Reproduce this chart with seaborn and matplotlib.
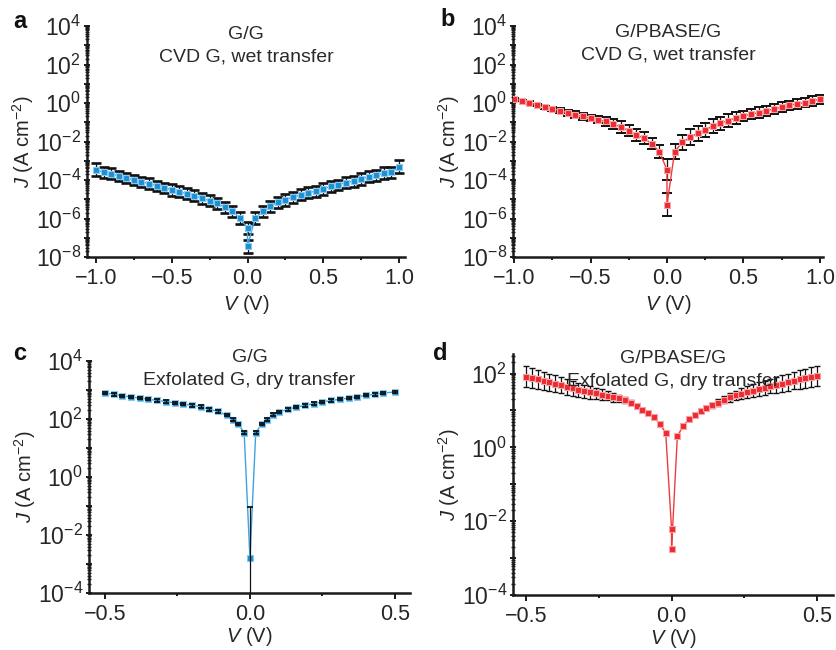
import numpy as np
import pandas as pd
import matplotlib
matplotlib.use('Agg')
import matplotlib.pyplot as plt
import matplotlib.ticker as mticker
import seaborn as sns

# ---- data (J values given as log10 of A cm^-2, errors in decades) ----

# CVD graphene, wet transfer (panels a and b share the voltage grid)
v_cvd = [-1.0, -0.95, -0.9, -0.85, -0.8, -0.75, -0.7, -0.65, -0.6, -0.55,
         -0.5, -0.45, -0.4, -0.35, -0.3, -0.25, -0.2, -0.15, -0.1, -0.05,
         0.0, 0.0,
         0.05, 0.1, 0.15, 0.2, 0.25, 0.3, 0.35, 0.4, 0.45, 0.5,
         0.55, 0.6, 0.65, 0.7, 0.75, 0.8, 0.85, 0.9, 0.95, 1.0]

logj_a = [-3.47, -3.61, -3.68, -3.78, -3.89, -3.99, -4.09, -4.19, -4.30, -4.40,
          -4.52, -4.61, -4.71, -4.82, -4.96, -5.08, -5.22, -5.41, -5.63, -5.98,
          -6.50, -7.45,
          -5.98, -5.63, -5.37, -5.15, -5.03, -4.89, -4.77, -4.65, -4.59, -4.46,
          -4.33, -4.25, -4.13, -4.06, -3.95, -3.82, -3.76, -3.64, -3.61, -3.30]
err_a = [0.33, 0.29, 0.29, 0.25, 0.26, 0.26, 0.27, 0.28, 0.27, 0.26,
         0.29, 0.28, 0.27, 0.28, 0.29, 0.28, 0.27, 0.28, 0.29, 0.30,
         0.30, 0.33,
         0.32, 0.30, 0.28, 0.29, 0.30, 0.28, 0.29, 0.27, 0.28, 0.30,
         0.28, 0.27, 0.29, 0.28, 0.30, 0.29, 0.28, 0.30, 0.29, 0.34]

logj_b = [0.21, 0.13, 0.02, -0.10, -0.22, -0.32, -0.39, -0.53, -0.62, -0.70,
          -0.79, -0.88, -0.96, -1.08, -1.26, -1.43, -1.65, -1.83, -2.12, -2.52,
          -3.47, -5.29,
          -2.52, -2.05, -1.78, -1.57, -1.40, -1.19, -1.05, -0.91, -0.79, -0.67,
          -0.58, -0.50, -0.41, -0.31, -0.22, -0.12, -0.05, 0.02, 0.11, 0.20]
err_b = [0.05, 0.05, 0.06, 0.07, 0.08, 0.10, 0.14, 0.17, 0.18, 0.16,
         0.17, 0.18, 0.22, 0.26, 0.30, 0.30, 0.30, 0.30, 0.28, 0.32,
         0.55, 0.60,
         0.40, 0.40, 0.42, 0.40, 0.38, 0.35, 0.33, 0.32, 0.30, 0.28,
         0.27, 0.27, 0.26, 0.26, 0.25, 0.25, 0.24, 0.24, 0.24, 0.24]

# exfoliated graphene, dry transfer, G/G
v_c = [-0.50, -0.47, -0.44, -0.41, -0.38, -0.35, -0.32, -0.29, -0.26, -0.23,
       -0.20, -0.17, -0.14, -0.11, -0.08, -0.06, -0.04, -0.02,
       0.0,
       0.02, 0.04, 0.06, 0.08, 0.10, 0.13, 0.16, 0.19, 0.22, 0.25,
       0.28, 0.31, 0.34, 0.37, 0.40, 0.43, 0.46, 0.50]
logj_c = [2.90, 2.85, 2.80, 2.76, 2.72, 2.68, 2.64, 2.60, 2.56, 2.52,
          2.47, 2.43, 2.33, 2.26, 2.13, 1.98, 1.82, 1.53,
          -2.79,
          1.53, 1.82, 1.98, 2.15, 2.24, 2.33, 2.41, 2.47, 2.53, 2.59,
          2.64, 2.68, 2.72, 2.76, 2.82, 2.85, 2.90, 2.93]
err_c = [0.04, 0.04, 0.04, 0.04, 0.04, 0.04, 0.04, 0.04, 0.04, 0.04,
         0.04, 0.04, 0.04, 0.04, 0.04, 0.04, 0.04, 0.04,
         1.76,
         0.04, 0.04, 0.04, 0.04, 0.04, 0.04, 0.04, 0.04, 0.04, 0.04,
         0.04, 0.04, 0.04, 0.04, 0.04, 0.04, 0.04, 0.04]

# exfoliated graphene, dry transfer, G/PBASE/G
v_d = [-0.50, -0.48, -0.46, -0.44, -0.42, -0.40, -0.38, -0.36, -0.34, -0.32,
       -0.30, -0.28, -0.26, -0.24, -0.22, -0.20, -0.18, -0.16, -0.14, -0.12,
       -0.10, -0.08, -0.06, -0.04, -0.02,
       0.0, 0.0,
       0.02, 0.04, 0.06, 0.08, 0.10, 0.12, 0.14, 0.16, 0.18, 0.20,
       0.22, 0.24, 0.26, 0.28, 0.30, 0.32, 0.34, 0.36, 0.38, 0.40,
       0.42, 0.44, 0.46, 0.48, 0.50]
logj_d = [1.92, 1.88, 1.84, 1.80, 1.76, 1.72, 1.68, 1.64, 1.60, 1.56,
          1.52, 1.49, 1.46, 1.43, 1.40, 1.36, 1.33, 1.28, 1.21, 1.12,
          1.02, 0.93, 0.83, 0.62, 0.40,
          -2.20, -2.76,
          0.30, 0.58, 0.76, 0.89, 0.99, 1.07, 1.14, 1.21, 1.29, 1.36,
          1.41, 1.45, 1.50, 1.54, 1.58, 1.62, 1.66, 1.69, 1.73, 1.77,
          1.81, 1.84, 1.87, 1.90, 1.93]
err_d = [0.28, 0.27, 0.26, 0.25, 0.24, 0.23, 0.22, 0.21, 0.20, 0.19,
         0.18, 0.17, 0.16, 0.15, 0.13, 0.12, 0.10, 0.09, 0.07, 0.06,
         0.05, 0.04, 0.04, 0.04, 0.04,
         0.04, 0.04,
         0.04, 0.04, 0.04, 0.04, 0.05, 0.06, 0.07, 0.09, 0.10, 0.12,
         0.13, 0.15, 0.16, 0.17, 0.18, 0.19, 0.20, 0.21, 0.22, 0.23,
         0.24, 0.25, 0.26, 0.27, 0.28]

titles = [('G/G', 'CVD G, wet transfer'),
          ('G/PBASE/G', 'CVD G, wet transfer'),
          ('G/G', 'Exfolated G, dry transfer'),
          ('G/PBASE/G', 'Exfolated G, dry transfer')]

# ---- style ----
sns.set_style('ticks')
plt.rcParams['font.family'] = ['Liberation Sans', 'DejaVu Sans']
plt.rcParams['mathtext.fontset'] = 'custom'
plt.rcParams['mathtext.rm'] = 'Liberation Sans'
plt.rcParams['mathtext.it'] = 'Liberation Sans:italic'
plt.rcParams['axes.unicode_minus'] = True

blue = '#1c8fd3'
blue_edge = '#86c8ef'
blue_line = '#3ea2e0'
red = '#ee2a30'
red_edge = '#f6a3a5'
red_line = '#ee3b3e'


def log_fmt(val, pos):
    e = int(round(np.log10(val)))
    if e % 2 == 0:
        return r'$10^{%d}$' % e
    return ''


def v_fmt(val, pos):
    return ('%.1f' % val).replace('-', '\u2212')


def draw(ax, v, logj, err, face, edge, line, ms, capsize, capthick, caps_on_top):
    logj = np.array(logj)
    err = np.array(err)
    j = 10 ** logj
    lo = j - 10 ** (logj - err)
    hi = 10 ** (logj + err) - j
    df = pd.DataFrame({'V': v, 'J': j})
    ax.set_yscale('log')
    ax.errorbar(v, j, yerr=[lo, hi], fmt='none', ecolor='#111111', elinewidth=0.9,
                capsize=capsize, capthick=capthick, zorder=4 if caps_on_top else 2)
    sns.lineplot(data=df, x='V', y='J', sort=False, estimator=None, ax=ax,
                 color=line, lw=1.0, marker='s', markersize=ms,
                 markerfacecolor=face, markeredgecolor=edge, markeredgewidth=0.8,
                 zorder=3)


def style_axis(ax, xlim, ylim, xmajor, xminor, ttl, ty, xpad):
    ax.set_xlim(*xlim)
    ax.set_ylim(*ylim)
    sns.despine(ax=ax)
    for s in ['left', 'bottom']:
        ax.spines[s].set_linewidth(1.8)
        ax.spines[s].set_color('#1a1a1a')
    ax.xaxis.set_major_locator(mticker.MultipleLocator(xmajor))
    ax.xaxis.set_minor_locator(mticker.MultipleLocator(xminor))
    ax.xaxis.set_major_formatter(mticker.FuncFormatter(v_fmt))
    ax.yaxis.set_major_locator(mticker.LogLocator(base=10, numticks=30))
    ax.yaxis.set_minor_locator(mticker.LogLocator(base=10, subs=np.arange(2, 10), numticks=30))
    ax.yaxis.set_major_formatter(mticker.FuncFormatter(log_fmt))
    ax.yaxis.set_minor_formatter(mticker.NullFormatter())
    ax.tick_params(axis='x', which='major', direction='out', length=4.5, width=1.4,
                   labelsize=15.5, pad=3.5, color='#1a1a1a')
    ax.tick_params(axis='x', which='minor', direction='out', length=2.2, width=1.4,
                   color='#1a1a1a')
    ax.tick_params(axis='y', which='major', direction='inout', length=4.5, width=1.4,
                   labelsize=16.5, pad=2, color='#1a1a1a')
    ax.tick_params(axis='y', which='minor', direction='inout', length=2.5, width=1.0,
                   color='#1a1a1a')
    ax.set_xlabel(r'$\mathit{V}$ (V)', fontsize=14.5, labelpad=xpad)
    ax.set_ylabel(r'$\mathit{J}$ (A cm$^{-2}$)', fontsize=14.5, labelpad=0)
    ax.text(0.5, ty[0], ttl[0], transform=ax.transAxes, ha='center', va='center',
            fontsize=14, color='#2a2a2a')
    ax.text(0.5, ty[1], ttl[1], transform=ax.transAxes, ha='center', va='center',
            fontsize=14, color='#2a2a2a')


fig = plt.figure(figsize=(8.36, 6.5), dpi=100)
ax_a = fig.add_axes([0.104, 0.6046, 0.3805, 0.3554])
ax_b = fig.add_axes([0.6136, 0.6046, 0.3708, 0.3554])
ax_c = fig.add_axes([0.1065, 0.0877, 0.3839, 0.3569])
ax_d = fig.add_axes([0.6136, 0.0846, 0.3828, 0.3708])

draw(ax_a, v_cvd, logj_a, err_a, blue, blue_edge, blue_line, 4.8, 3.6, 1.9, False)
style_axis(ax_a, (-1.06, 1.04), (1e-8, 1e4), 0.5, 0.25, titles[0], (0.965, 0.866), 3)

draw(ax_b, v_cvd, logj_b, err_b, red, red_edge, red_line, 4.4, 3.6, 1.4, False)
style_axis(ax_b, (-1.007, 1.02), (1e-8, 1e4), 0.5, 0.25, titles[1], (0.974, 0.874), 3)

draw(ax_c, v_c, logj_c, err_c, blue, blue_edge, blue_line, 3.8, 2.4, 1.3, True)
style_axis(ax_c, (-0.555, 0.552), (1e-4, 1e4), 0.5, 0.25, titles[2], (1.013, 0.914), 0)

draw(ax_d, v_d, logj_d, err_d, red, red_edge, red_line, 4.4, 2.4, 1.0, False)
style_axis(ax_d, (-0.545, 0.555), (1e-4, 10 ** 2.53), 0.5, 0.25, titles[3], (0.983, 0.884), 0)

for lbl, x, y in [('a', 20, 22), ('b', 448, 20), ('c', 20, 354), ('d', 440, 353)]:
    fig.text(x / 836, 1 - y / 650, lbl, fontsize=17, fontweight='bold',
             ha='center', va='center', color='#111111')

fig.savefig('out.png', dpi=100)
